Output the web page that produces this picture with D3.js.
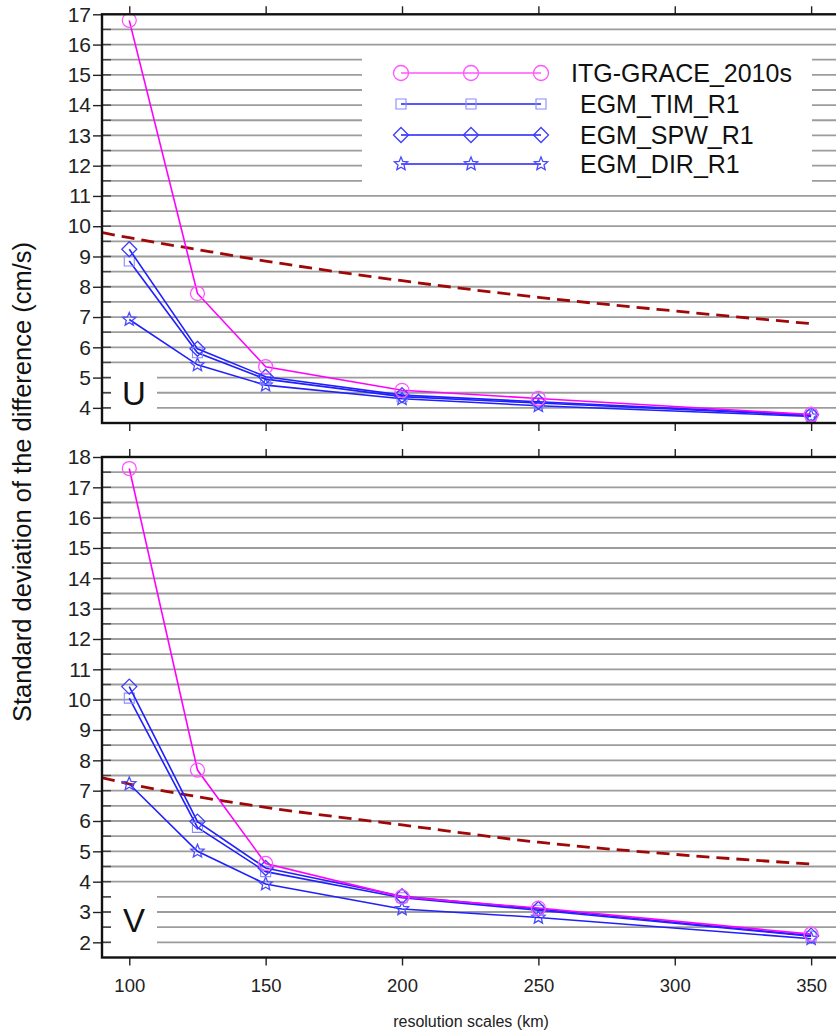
<!DOCTYPE html>
<html><head><meta charset="utf-8">
<script src="https://cdn.jsdelivr.net/npm/d3@7"></script>
<style>
body{margin:0;background:#fff;}
svg{display:block;font-family:"Liberation Sans",Arial,Helvetica,sans-serif;}
</style></head>
<body><svg id="c" width="836" height="1032"></svg>
<script>
// ---- data ----
const xValues = [100, 125, 150, 200, 250, 350];
const xTicks = [100, 150, 200, 250, 300, 350];
const seriesNames = ["ITG-GRACE_2010s", "EGM_TIM_R1", "EGM_SPW_R1", "EGM_DIR_R1"];
const uITG = [16.8, 7.78, 5.36, 4.58, 4.31, 3.78];
const uTIM = [8.85, 5.82, 4.95, 4.37, 4.16, 3.75];
const uSPW = [9.24, 5.95, 5.03, 4.42, 4.20, 3.77];
const uDIR = [6.92, 5.42, 4.75, 4.30, 4.07, 3.72];
const vITG = [17.62, 7.68, 4.60, 3.50, 3.13, 2.27];
const vTIM = [10.05, 5.79, 4.33, 3.47, 3.06, 2.20];
const vSPW = [10.43, 5.98, 4.45, 3.52, 3.10, 2.22];
const vDIR = [7.22, 5.00, 3.92, 3.10, 2.82, 2.12];
const dashX = [90, 100, 125, 150, 200, 250, 300, 350];
const uDash = [9.79, 9.62, 9.23, 8.85, 8.20, 7.65, 7.20, 6.78];
const vDash = [7.43, 7.22, 6.80, 6.45, 5.87, 5.30, 4.90, 4.58];
const uTicks = d3.range(4, 18, 1);
const vTicks = d3.range(2, 19, 1);
const panelLabels = ["U", "V"];
const xTitle = "resolution scales (km)";
const yTitle = "Standard deviation of the difference (cm/s)";

// ---- styles ----
const FONT = '"Liberation Sans",Arial,Helvetica,sans-serif';
const MAG = "#ff00ff", BLUE = "#2020ff";
const styles = [
  {line: MAG, mk: "circle", mkColor: "#ff55ff", r: 7},
  {line: BLUE, mk: "square", mkColor: "#8a8aff", r: 5},
  {line: BLUE, mk: "diamond", mkColor: "#3c3cff", r: 7.5},
  {line: BLUE, mk: "star", mkColor: "#4a4aff", r: 7}
];

const svg = d3.select("#c");
const x = d3.scaleLinear().domain([90, 360]).range([102, 838.4]);

const panels = [
  {dom: [3.5, 17], range: [423, 14.3], ticks: uTicks, data: [uITG, uTIM, uSPW, uDIR], dash: uDash, label: panelLabels[0], box: [111, 370, 46, 46], xLabels: false},
  {dom: [1.5, 18], range: [957.5, 457], ticks: vTicks, data: [vITG, vTIM, vSPW, vDIR], dash: vDash, label: panelLabels[1], box: [111, 889, 46, 61], xLabels: true}
];

function markerPath(type, r) {
  if (type === "square") return `M${-r},${-r}H${r}V${r}H${-r}Z`;
  if (type === "diamond") return `M0,${-r}L${r},0L0,${r}L${-r},0Z`;
  if (type === "star") {
    let p = [];
    for (let i = 0; i < 10; i++) {
      const a = -Math.PI / 2 + i * Math.PI / 5;
      const rr = i % 2 ? r * 0.45 : r;
      p.push([rr * Math.cos(a), rr * Math.sin(a)]);
    }
    return "M" + p.map(d => d[0].toFixed(2) + "," + d[1].toFixed(2)).join("L") + "Z";
  }
  return null;
}
function drawMarker(g, type, color, r, cx, cy) {
  if (type === "circle") {
    g.append("circle").attr("cx", cx).attr("cy", cy).attr("r", r)
      .attr("fill", "none").attr("stroke", color).attr("stroke-width", 1.3);
  } else {
    g.append("path").attr("d", markerPath(type, r)).attr("transform", `translate(${cx},${cy})`)
      .attr("fill", "none").attr("stroke", color).attr("stroke-width", type === "square" ? 1.1 : 1.3);
  }
}

panels.forEach((P, pi) => {
  const y = d3.scaleLinear().domain(P.dom).range(P.range);
  const g = svg.append("g");
  const x0 = x.range()[0], x1 = x.range()[1];
  // gridlines every 0.5
  const grid = d3.range(P.dom[0] + 0.5, P.dom[1], 0.5);
  g.append("g").selectAll("line").data(grid).join("line")
    .attr("x1", x0).attr("x2", x1).attr("y1", d => y(d)).attr("y2", d => y(d))
    .attr("stroke", "#9c9c9c").attr("stroke-width", 1.8);
  // label box
  g.append("rect").attr("x", P.box[0]).attr("y", P.box[1]).attr("width", P.box[2]).attr("height", P.box[3]).attr("fill", "#fff");
  if (pi === 0) {
    g.append("rect").attr("x", 362).attr("y", 51).attr("width", 450).attr("height", 138).attr("fill", "#fff");
  }
  // inner ticks (minor + major)
  g.append("g").selectAll("line").data(grid).join("line")
    .attr("x1", x0).attr("x2", x0 + 9).attr("y1", d => y(d)).attr("y2", d => y(d))
    .attr("stroke", "#444").attr("stroke-width", 1.4);
  // y axis (outer ticks + labels)
  const ya = g.append("g").attr("transform", `translate(${x0},0)`)
    .call(d3.axisLeft(y).tickValues(P.ticks).tickSize(9).tickPadding(2).tickFormat(d3.format("d")));
  ya.select(".domain").remove();
  ya.selectAll(".tick line").attr("stroke", "#222").attr("stroke-width", 1.4);
  ya.selectAll(".tick text").attr("font-family", FONT).attr("font-size", 21).attr("fill", "#222");
  // x axes top/bottom (ticks outward)
  const xb = g.append("g").attr("transform", `translate(0,${P.range[0]})`)
    .call(d3.axisBottom(x).tickValues(xTicks).tickSize(8).tickPadding(13).tickFormat(P.xLabels ? d3.format("d") : () => ""));
  xb.select(".domain").remove();
  xb.selectAll(".tick line").attr("stroke", "#222").attr("stroke-width", 1.4);
  xb.selectAll(".tick text").attr("font-family", FONT).attr("font-size", 18.5).attr("fill", "#222");
  const xt = g.append("g").attr("transform", `translate(0,${P.range[1]})`)
    .call(d3.axisTop(x).tickValues(xTicks).tickSize(8).tickFormat(() => ""));
  xt.select(".domain").remove();
  xt.selectAll(".tick line").attr("stroke", "#222").attr("stroke-width", 1.4);
  // panel label
  g.append("text").attr("x", 134).attr("y", P.box[1] + P.box[3] / 2 + 12).attr("text-anchor", "middle")
    .attr("font-family", FONT).attr("font-size", 33).attr("fill", "#111").text(P.label);
  // dashed line
  const dl = d3.line().x((d, i) => x(dashX[i])).y(d => y(d)).curve(d3.curveMonotoneX);
  g.append("path").attr("d", dl(P.dash)).attr("fill", "none").attr("stroke", "#a00808")
    .attr("stroke-width", 2.8).attr("stroke-dasharray", "13,7");
  // series (draw ITG last so it sits on top)
  [3, 1, 2, 0].forEach(si => {
    const vals = P.data[si];
    const st = styles[si];
    const ln = d3.line().x((d, i) => x(xValues[i])).y(d => y(d));
    g.append("path").attr("d", ln(vals)).attr("fill", "none").attr("stroke", st.line).attr("stroke-width", 1.6);
    const mg = g.append("g");
    vals.forEach((v, i) => drawMarker(mg, st.mk, st.mkColor, st.r, x(xValues[i]), y(v)));
  });
  // frame
  g.append("rect").attr("x", x0).attr("y", P.range[1]).attr("width", x1 - x0).attr("height", P.range[0] - P.range[1])
    .attr("fill", "none").attr("stroke", "#111").attr("stroke-width", 2.4);
});

// legend
const lg = svg.append("g");
const legY = [73, 104, 135, 164];
const legX = [401, 471, 541];
seriesNames.forEach((name, i) => {
  const st = styles[i];
  lg.append("line").attr("x1", legX[0]).attr("x2", legX[2]).attr("y1", legY[i]).attr("y2", legY[i])
    .attr("stroke", i === 0 ? "#ff55ff" : BLUE).attr("stroke-width", 1.5);
  legX.forEach(lx => drawMarker(lg, st.mk, st.mkColor, i === 0 ? 7.5 : st.r, lx, legY[i]));
  lg.append("text").attr("x", i === 0 ? 571 : 580).attr("y", legY[i] + 9).attr("font-family", FONT)
    .attr("font-size", 25).attr("fill", "#111").text(name);
});

// titles
svg.append("text").attr("transform", "translate(31,482) rotate(-90)").attr("text-anchor", "middle")
  .attr("font-family", FONT).attr("font-size", 25.5).attr("fill", "#111").text(yTitle);
svg.append("text").attr("x", 471).attr("y", 1027).attr("text-anchor", "middle")
  .attr("font-family", FONT).attr("font-size", 16).attr("fill", "#222").text(xTitle);
</script></body></html>
